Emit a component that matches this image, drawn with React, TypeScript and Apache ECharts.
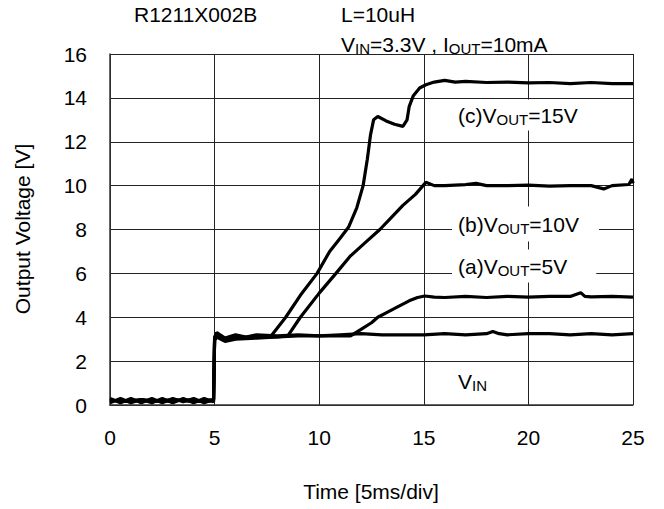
import React, { useEffect, useRef } from "react";
import * as echarts from "echarts";

// ---- data (time in divisions, voltage in V) ----
const xTicks = [0, 5, 10, 15, 20, 25];
const yTicks = [0, 2, 4, 6, 8, 10, 12, 14, 16];

const vinX = [0, 0.5, 1, 1.5, 2, 2.5, 3, 3.5, 4, 4.5, 4.95, 5.0, 5.1, 5.5, 6, 6.5, 7, 8, 9, 10, 11, 12, 13, 14, 15, 16, 17, 18, 18.3, 18.6, 19, 20, 21, 22, 23, 24, 25];
const vinY = [0.3, 0.1, 0.3, 0.1, 0.3, 0.1, 0.3, 0.15, 0.3, 0.1, 0.25, 3.1, 3.3, 3.05, 3.2, 3.1, 3.2, 3.15, 3.2, 3.15, 3.2, 3.25, 3.2, 3.2, 3.2, 3.25, 3.2, 3.25, 3.35, 3.25, 3.2, 3.25, 3.25, 3.2, 3.25, 3.2, 3.25];

const aX = [0, 0.5, 1, 1.5, 2, 2.5, 3, 3.5, 4, 4.5, 4.95, 5.0, 5.1, 5.5, 6, 7, 8, 9, 10, 11, 11.5, 12, 12.5, 12.8, 13.2, 13.7, 14.3, 14.7, 15.05, 15.5, 16, 17, 18, 19, 20, 21, 22, 22.5, 22.7, 23, 24, 25];
const aY = [0.1, 0.3, 0.1, 0.25, 0.1, 0.3, 0.1, 0.3, 0.1, 0.3, 0.15, 3.0, 3.2, 2.95, 3.05, 3.1, 3.1, 3.15, 3.15, 3.15, 3.15, 3.45, 3.75, 4.0, 4.2, 4.45, 4.75, 4.9, 4.97, 4.92, 4.9, 4.95, 4.9, 4.95, 4.92, 4.95, 4.95, 5.12, 4.95, 4.93, 4.95, 4.92];

const bX = [0, 0.5, 1, 1.5, 2, 2.5, 3, 3.5, 4, 4.5, 4.95, 5.0, 5.1, 5.5, 6, 7, 8, 8.5, 9.1, 10, 10.8, 11.5, 12.2, 12.9, 13.5, 14, 14.6, 15.1, 15.5, 16, 17, 17.5, 18, 19, 20, 21, 22, 23, 23.6, 24, 24.8, 24.95, 25];
const bY = [0.25, 0.15, 0.2, 0.25, 0.15, 0.2, 0.25, 0.2, 0.15, 0.2, 0.25, 2.95, 3.1, 2.9, 3.0, 3.05, 3.1, 3.15, 4.0, 5.1, 6.0, 6.8, 7.4, 8.0, 8.6, 9.1, 9.6, 10.15, 10.0, 10.0, 10.05, 10.1, 10.0, 10.0, 10.02, 9.98, 10.0, 10.0, 9.85, 10.0, 10.05, 10.3, 10.1];

const cX = [0, 0.5, 1, 1.5, 2, 2.5, 3, 3.5, 4, 4.5, 4.95, 5.0, 5.1, 5.5, 6, 7, 7.7, 8.4, 9.1, 9.9, 10.5, 11.0, 11.4, 11.8, 12.1, 12.3, 12.45, 12.6, 12.8, 13.2, 13.6, 14.0, 14.2, 14.3, 14.5, 14.8, 15.1, 15.5, 16, 16.5, 17, 18, 19, 20, 21, 22, 23, 24, 25];
const cY = [0.2, 0.2, 0.15, 0.25, 0.2, 0.2, 0.15, 0.25, 0.2, 0.15, 0.2, 3.05, 3.2, 3.0, 3.1, 3.1, 3.15, 4.0, 5.0, 6.0, 7.0, 7.6, 8.1, 9.0, 10.0, 11.2, 12.3, 13.0, 13.15, 12.95, 12.8, 12.7, 13.0, 13.6, 14.1, 14.45, 14.6, 14.72, 14.8, 14.72, 14.75, 14.7, 14.72, 14.68, 14.7, 14.65, 14.7, 14.65, 14.65];

const FONT = "'Liberation Sans', Arial, sans-serif";
const FS = 21;
const SFS = 15;

function pairs(xs: number[], ys: number[]) {
  return xs.map((x, i) => [x, ys[i]]);
}

const richStyles = {
  n: { fontFamily: FONT, fontSize: FS, fill: "#000", verticalAlign: "bottom" },
  s: { fontFamily: FONT, fontSize: SFS, fill: "#000", verticalAlign: "bottom", padding: [0, 0, -1, 0] },
};

function subLabel(pre: string, sub: string, post: string, x: number, y: number, bg: boolean, pad: number[]) {
  return {
    type: "text",
    x,
    y,
    z: 100,
    style: {
      text: post ? `{n|${pre}}{s|${sub}}{n|${post}}` : `{n|${pre}}{s|${sub}}`,
      fill: "#000",
      align: "left",
      verticalAlign: "middle",
      backgroundColor: bg ? "#fff" : undefined,
      padding: pad,
      rich: richStyles,
    },
  };
}

export default function App() {
  const ref = useRef<HTMLDivElement>(null);
  useEffect(() => {
    document.body.style.margin = "0";
    const chart = echarts.init(ref.current!, null, { renderer: "svg" });
    const lineStyle = { color: "#000", width: 3.2 };
    const mk = (name: string, xs: number[], ys: number[]) => ({
      type: "line",
      name,
      data: pairs(xs, ys),
      showSymbol: false,
      symbol: "none",
      smooth: false,
      lineStyle,
      z: 3,
    });
    chart.setOption({
      animation: false,
      backgroundColor: "#fff",
      textStyle: { fontFamily: FONT },
      grid: { left: 110, right: 31, top: 54, bottom: 104, outerBoundsMode: "none" },
      xAxis: {
        type: "value",
        min: xTicks[0],
        max: xTicks[xTicks.length - 1],
        interval: 5,
        axisLine: { show: true, lineStyle: { color: "#333", width: 1.5 } },
        axisTick: { show: false },
        axisLabel: { color: "#000", fontSize: FS, margin: 22, fontFamily: FONT },
        splitLine: { show: true, lineStyle: { color: "#222", width: 1 } },
      },
      yAxis: {
        type: "value",
        min: yTicks[0],
        max: yTicks[yTicks.length - 1],
        interval: 2,
        axisLine: { show: true, lineStyle: { color: "#333", width: 1.5 } },
        axisTick: { show: false },
        axisLabel: { color: "#000", fontSize: FS, margin: 23, fontFamily: FONT },
        splitLine: { show: true, lineStyle: { color: "#222", width: 1 } },
      },
      graphic: [
        { type: "text", x: 134, y: 14, style: { text: "R1211X002B", fontFamily: FONT, fontSize: FS, fill: "#000", verticalAlign: "middle" } },
        { type: "text", x: 341, y: 14, style: { text: "L=10uH", fontFamily: FONT, fontSize: FS, fill: "#000", verticalAlign: "middle" } },
        {
          type: "text",
          x: 341,
          y: 44,
          style: {
            text: "{n|V}{s|IN}{n|=3.3V , I}{s|OUT}{n|=10mA}",
            verticalAlign: "middle",
            rich: richStyles,
          },
        },
        {
          type: "text",
          x: 22,
          y: 229,
          rotation: Math.PI / 2,
          style: { text: "Output Voltage [V]", fontFamily: FONT, fontSize: FS, fill: "#000", align: "center", verticalAlign: "middle" },
        },
        { type: "text", x: 371, y: 491, style: { text: "Time [5ms/div]", fontFamily: FONT, fontSize: FS, fill: "#000", align: "center", verticalAlign: "middle" } },
        subLabel("(c)V", "OUT", "=15V", 452, 115, true, [5, 20, 5, 6]),
        subLabel("(b)V", "OUT", "=10V", 452, 224, true, [7, 20, 7, 6]),
        subLabel("(a)V", "OUT", "=5V", 452, 266, true, [6, 29, 6, 6]),
        subLabel("V", "IN", "", 458, 381, false, [0, 0, 0, 0]),
      ],
      series: [mk("VIN", vinX, vinY), mk("a", aX, aY), mk("b", bX, bY), mk("c", cX, cY)],
    });
    return () => chart.dispose();
  }, []);
  return <div ref={ref} style={{ position: "fixed", left: 0, top: 0, width: 664, height: 509 }} />;
}
